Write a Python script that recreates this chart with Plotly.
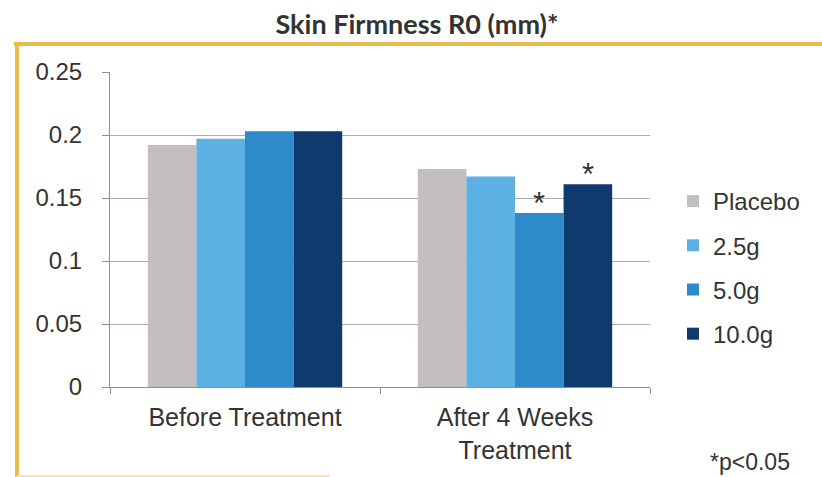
import plotly.graph_objects as go

# Data
categories = ["Before Treatment", "After 4 Weeks<br>Treatment"]
series_names = ["Placebo", "2.5g", "5.0g", "10.0g"]
placebo = [0.192, 0.173]
dose_2_5 = [0.197, 0.167]
dose_5_0 = [0.203, 0.138]
dose_10_0 = [0.203, 0.161]
significant = {"5.0g": [False, True], "10.0g": [False, True]}
y_ticks = [0, 0.05, 0.1, 0.15, 0.2, 0.25]
y_tick_labels = ["0", "0.05", "0.1", "0.15", "0.2", "0.25"]

colors = ["#c3bfbe", "#5cb0e2", "#2d8bca", "#0f3a6d"]
series_values = [placebo, dose_2_5, dose_5_0, dose_10_0]

W, H = 822, 477
M_L, M_R, M_T, M_B = 110, 172, 72, 90
PW, PH = W - M_L - M_R, H - M_T - M_B

def px_x(x):
    return (x - M_L) / PW

def px_y(y):
    return (H - M_B - y) / PH

TEXT = "#333333"
FONT = "Liberation Sans, Arial, sans-serif"

fig = go.Figure()
for i, (name, vals) in enumerate(zip(series_names, series_values)):
    fig.add_trace(go.Bar(
        x=categories, y=vals, name=name,
        marker=dict(color=colors[i], line=dict(width=0)),
        legendgroup=name,
    ))

# significance markers above bars
n = len(series_names)
group_w = 1 - 0.28
bar_w = group_w / n
for i, name in enumerate(series_names):
    if name not in significant:
        continue
    for c, flag in enumerate(significant[name]):
        if flag:
            xc = c - group_w / 2 + bar_w * (i + 0.5)
            fig.add_annotation(
                x=xc, y=series_values[i][c], xref="x", yref="y",
                text="*", showarrow=False, yanchor="bottom",
                yshift=-10, font=dict(size=31, color=TEXT, family=FONT),
            )

# footnote
fig.add_annotation(
    x=px_x(750), y=px_y(462), xref="paper", yref="paper",
    text="*p<0.05", showarrow=False, xanchor="center", yanchor="middle",
    font=dict(size=23, color=TEXT, family=FONT),
)

# frame lines (gold)
gold = "#e6bd4c"
fig.add_shape(type="line", xref="paper", yref="paper",
              x0=px_x(14), x1=px_x(822), y0=px_y(44), y1=px_y(44),
              line=dict(color=gold, width=4))
fig.add_shape(type="line", xref="paper", yref="paper",
              x0=px_x(17), x1=px_x(17), y0=px_y(44), y1=px_y(477),
              line=dict(color=gold, width=4))
fig.add_shape(type="line", xref="paper", yref="paper",
              x0=px_x(17), x1=px_x(330), y0=px_y(476), y1=px_y(476),
              line=dict(color="#f4e4ad", width=2))

fig.update_layout(
    width=W, height=H,
    margin=dict(l=M_L, r=M_R, t=M_T, b=M_B),
    paper_bgcolor="white", plot_bgcolor="white",
    title=dict(text="<b>Skin Firmness R0 (mm)*</b>", x=417 / W,
               xanchor="center", y=1 - 25 / H, yanchor="middle",
               font=dict(size=27, color=TEXT, family="Lato, sans-serif")),
    barmode="group", bargap=0.28, bargroupgap=0,
    font=dict(family=FONT, color=TEXT),
    showlegend=True,
    legend=dict(x=px_x(673), y=px_y(179), xanchor="left", yanchor="top",
                font=dict(size=24, color=TEXT, family=FONT),
                tracegroupgap=10, itemwidth=30, bgcolor="rgba(0,0,0,0)"),
)
fig.update_xaxes(
    showline=True, linecolor="#8f8f8f", linewidth=1,
    ticks="outside", tickson="boundaries", ticklen=6, tickcolor="#8f8f8f",
    tickfont=dict(size=25, color=TEXT, family=FONT),
    ticklabelstandoff=8,
    showgrid=False,
)
fig.update_yaxes(
    range=[0, 0.25], tickvals=y_ticks, ticktext=y_tick_labels,
    showline=True, linecolor="#8f8f8f", linewidth=1,
    ticks="outside", ticklen=7, tickcolor="#8f8f8f",
    tickfont=dict(size=24, color=TEXT, family=FONT),
    ticklabelstandoff=15,
    showgrid=True, gridcolor="#b9a9ab", gridwidth=1,
    zeroline=False,
)

fig.write_html("out.html")
